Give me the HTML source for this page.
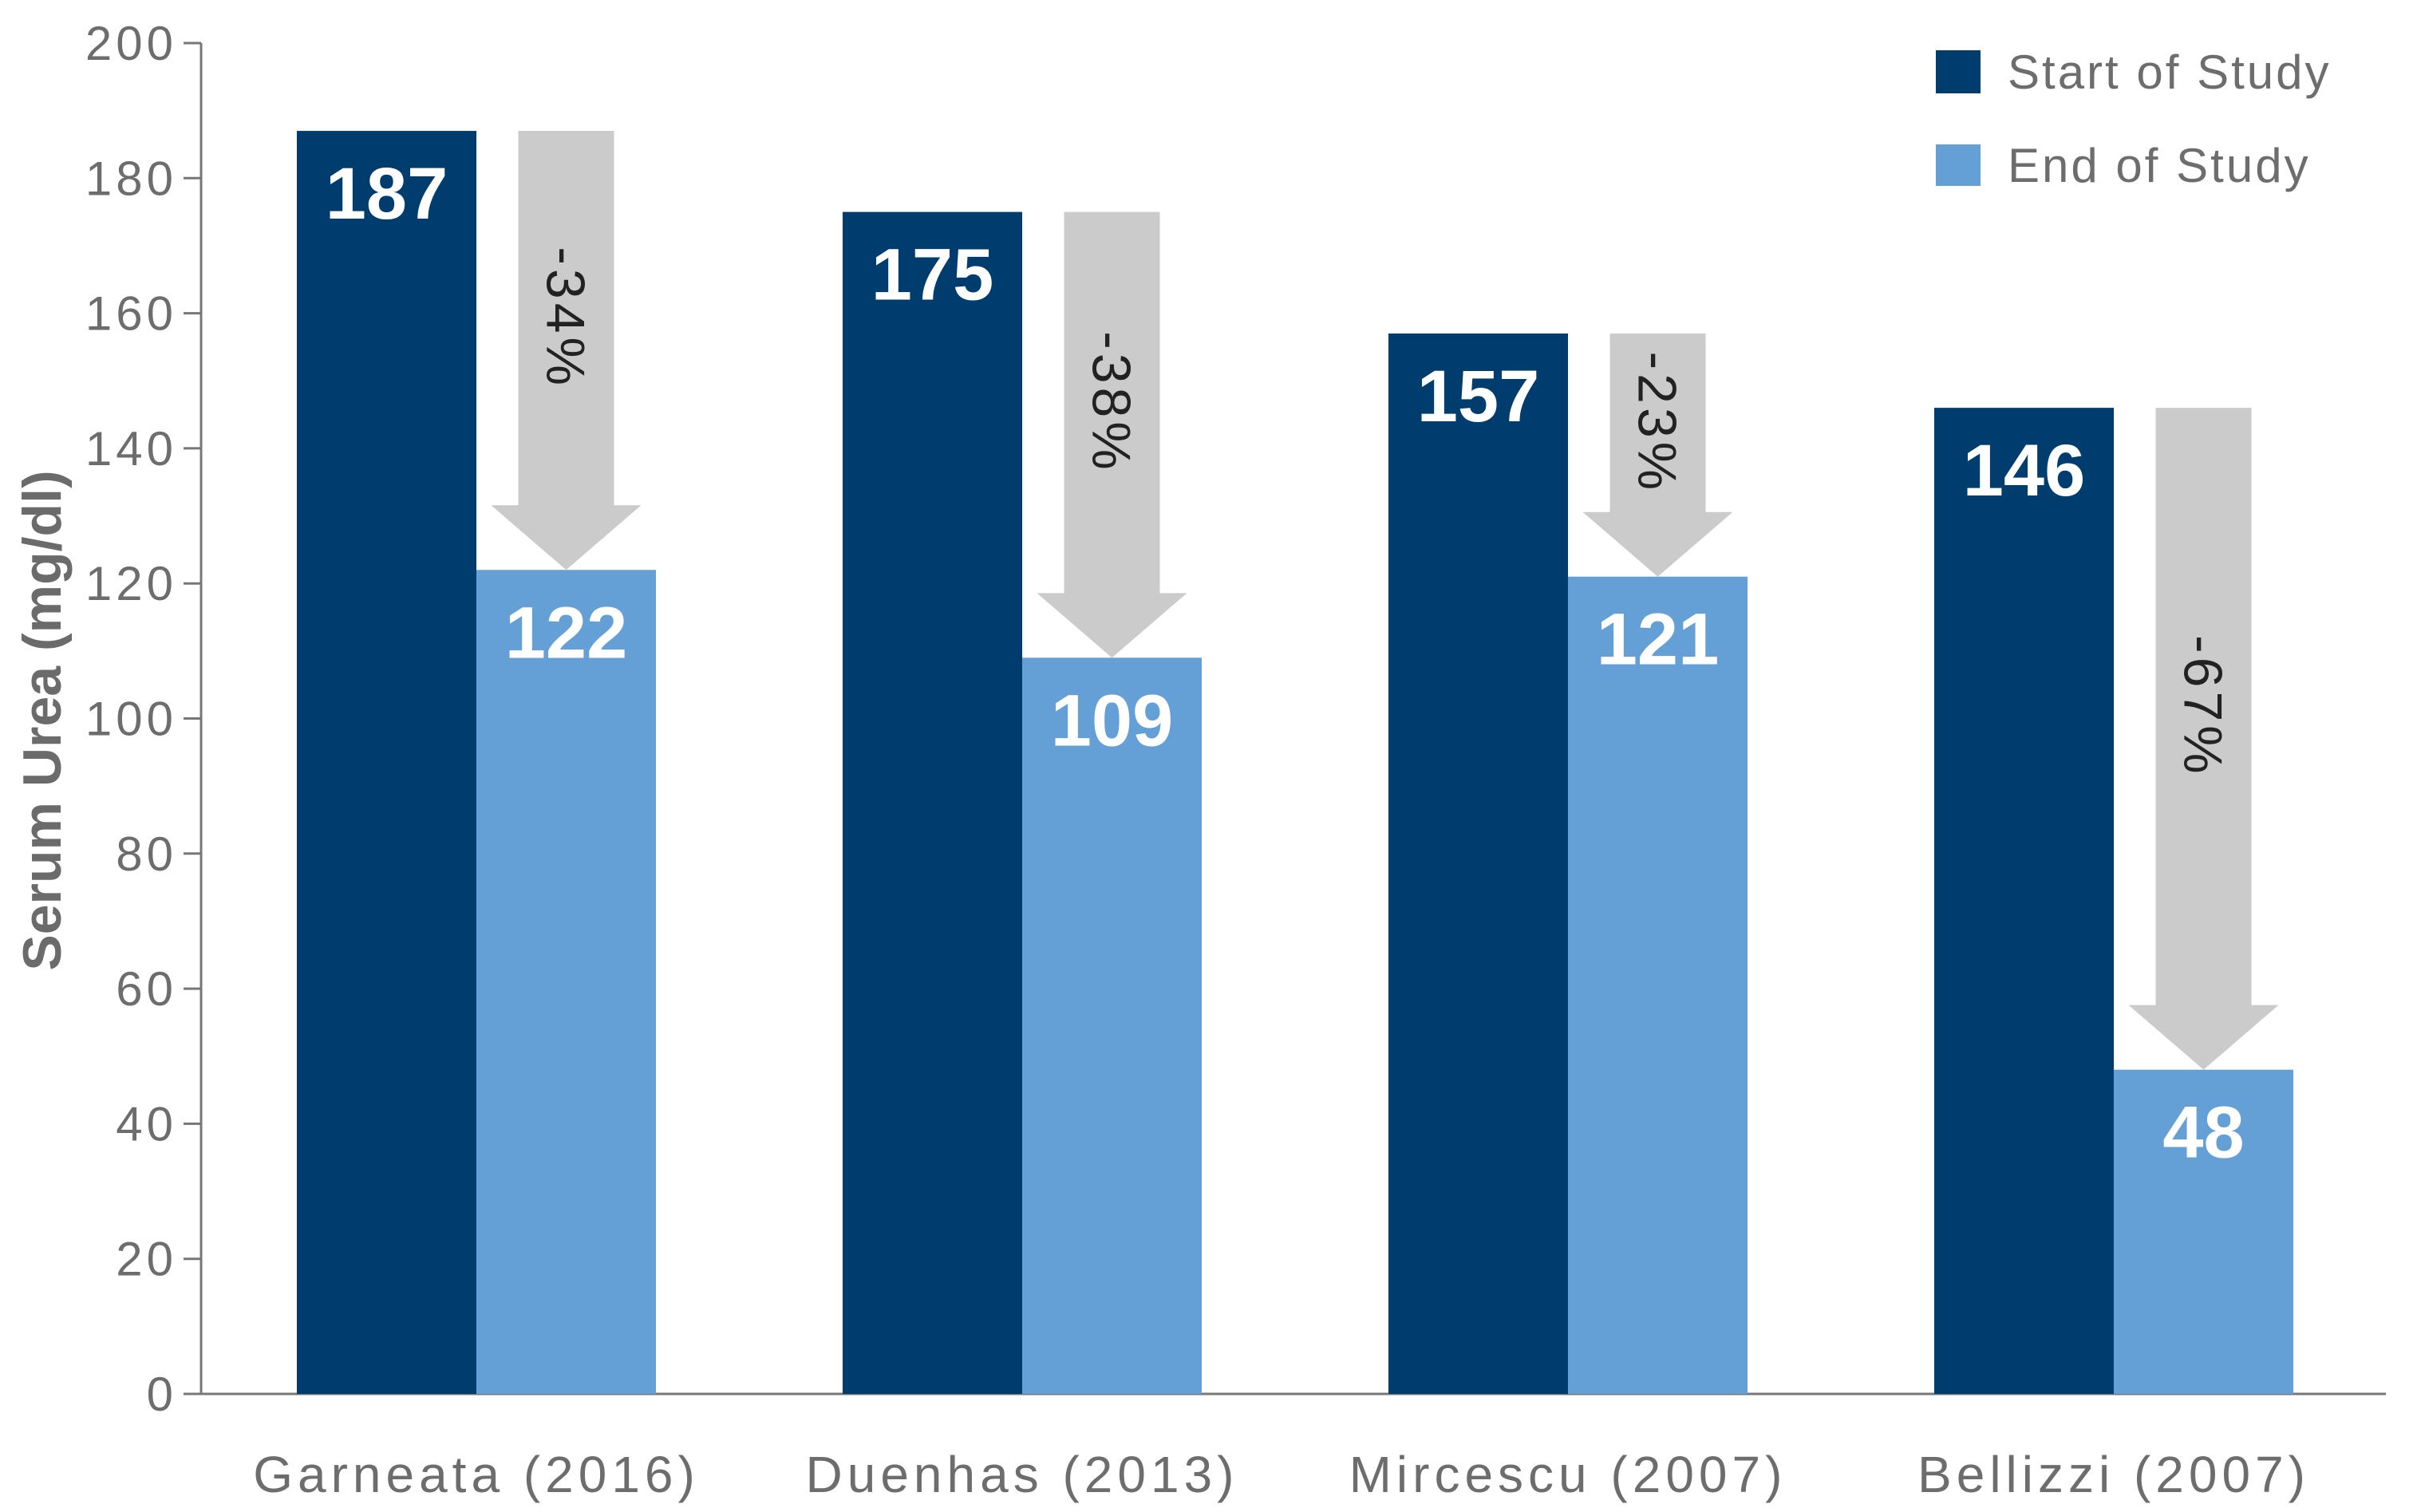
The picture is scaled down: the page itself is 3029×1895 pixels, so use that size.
<!DOCTYPE html>
<html><head><meta charset="utf-8"><style>
html,body{margin:0;padding:0;background:#fff;}
svg{display:block;}
</style></head><body>
<svg id="chart" width="3029" height="1895" viewBox="0 0 3029 1895" xmlns="http://www.w3.org/2000/svg" font-family="Liberation Sans, sans-serif">
<g id="axes"></g>
<g id="bars"></g>
<text transform="translate(76,903) rotate(-90)" text-anchor="middle" font-size="68" font-weight="bold" fill="#6b6b6b">Serum Urea (mg/dl)</text>
<g>
<rect x="2426" y="63" width="56" height="54" fill="#003d6f"/>
<text x="2516" y="111" font-size="60" fill="#6d6d6d" letter-spacing="3">Start of Study</text>
<rect x="2426" y="181" width="56" height="52" fill="#64a0d6"/>
<text x="2516" y="228" font-size="60" fill="#6d6d6d" letter-spacing="3">End of Study</text>
</g>
</svg>
<script>
const categories=["Garneata (2016)","Duenhas (2013)","Mircescu (2007)","Bellizzi (2007)"];
const startValues=[187,175,157,146];
const endValues=[122,109,121,48];
const changeLabels=["-34%","-38%","-23%","-67%"];
const yTicks=[0,20,40,60,80,100,120,140,160,180,200];
const NS="http://www.w3.org/2000/svg";
const X0=252,X1=2990,Y0=1747,Y200=54;
function y(v){return Y0-(Y0-Y200)*v/200;}
function xc(i){return 597+684*i;}
const BW=225;
function mk(tag,attrs,parent,txt){const e=document.createElementNS(NS,tag);for(const k in attrs)e.setAttribute(k,attrs[k]);if(txt!=null)e.textContent=txt;parent.appendChild(e);return e;}
const axes=document.getElementById('axes'),bars=document.getElementById('bars');
let e=mk('line',{x1:X0,y1:Y200,x2:X0,y2:Y0,stroke:'#777','stroke-width':3},axes);


e=mk('line',{x1:X0-2,y1:Y0,x2:X1,y2:Y0,stroke:'#777','stroke-width':3},axes);


yTicks.forEach(t=>{
 let l=mk('line',{x1:X0-22,y1:y(t),x2:X0,y2:y(t),stroke:'#777','stroke-width':3},axes);
 
 
 let tx=mk('text',{x:X0-30,y:y(t)+21,'text-anchor':'end','font-size':60,fill:'#6d6d6d','letter-spacing':5},axes,String(t));
 
 
});
categories.forEach((c,i)=>{
 const cx=xc(i);
 let r=mk('rect',{x:cx-BW,y:y(startValues[i]),width:BW,height:Y0-y(startValues[i]),fill:'#003d6f'},bars);
 
 
 r=mk('rect',{x:cx,y:y(endValues[i]),width:BW,height:Y0-y(endValues[i]),fill:'#64a0d6'},bars);
 
 
 let t=mk('text',{x:cx-BW/2,y:y(startValues[i])+110,'text-anchor':'middle','font-size':92,'font-weight':'bold',fill:'#fff'},bars,String(startValues[i]));
 
 
 t=mk('text',{x:cx+BW/2,y:y(endValues[i])+110,'text-anchor':'middle','font-size':92,'font-weight':'bold',fill:'#fff'},bars,String(endValues[i]));
 
 
 const ax=cx+BW/2, top=y(startValues[i]), tip=y(endValues[i]), hs=tip-81;
 let p=mk('path',{d:`M${ax-60},${top}H${ax+60}V${hs}H${ax+94}L${ax},${tip}L${ax-94},${hs}H${ax-60}Z`,fill:'#cccbcc'},bars);
 
 
 const mid=(top+hs)/2;
 t=mk('text',{x:0,y:0,transform:`translate(${ax-24},${mid}) rotate(90)`,'text-anchor':'middle','font-size':68,fill:'#222','letter-spacing':5},bars,changeLabels[i]);
 
 
 t=mk('text',{x:cx,y:1870,'text-anchor':'middle','font-size':64,fill:'#6d6d6d','letter-spacing':6},bars,c);
 
 
});
</script>
</body></html>
